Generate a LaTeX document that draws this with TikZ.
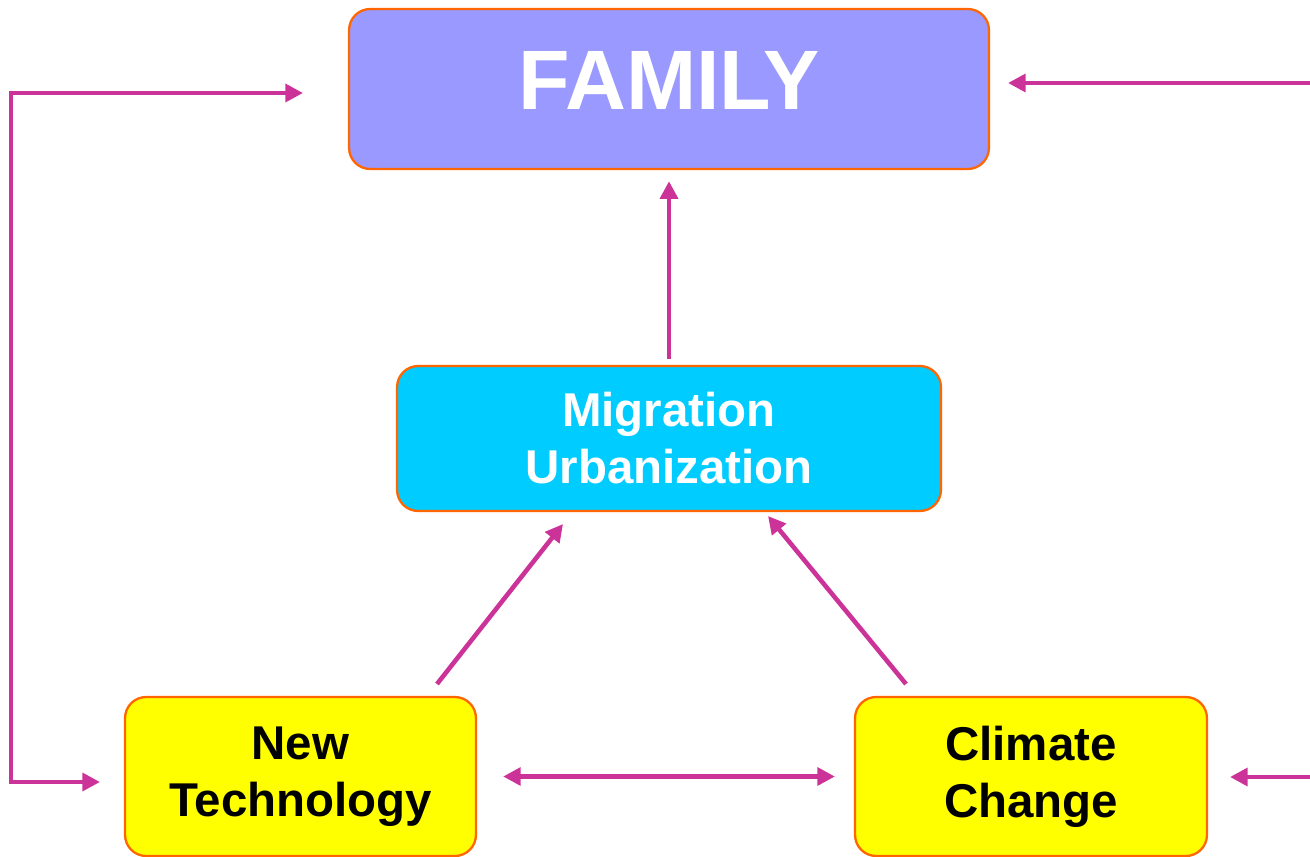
\documentclass[tikz,border=0pt]{standalone}
\usepackage{fontspec}
\setmainfont{Liberation Sans}
\usetikzlibrary{arrows.meta}
\definecolor{famfill}{HTML}{9999FF}
\definecolor{migfill}{HTML}{00CCFF}
\definecolor{drvfill}{HTML}{FFFF00}
\definecolor{boxedge}{HTML}{FF6600}
\definecolor{linkc}{HTML}{CC3399}
\begin{document}
\begin{tikzpicture}[x=0.02cm,y=-0.02cm,
  box/.style={draw=boxedge, line width=1.3pt, rounded corners=12pt, inner sep=0pt,
              align=center, font=\bfseries\fontsize{27}{32.4}\selectfont},
  flow/.style={draw=linkc, line width=2.6pt, -{Triangle[length=10pt,width=10pt]}},
  twoway/.style={draw=linkc, line width=2.6pt,
                 {Triangle[length=10pt,width=10pt]}-{Triangle[length=10pt,width=10pt]}}]
  \useasboundingbox (0,0) rectangle (1310,857);

  % boxes
  \node[box, fill=famfill, minimum width=12.8cm, minimum height=3.2cm] (fam) at (669,89) {};
  \node[text=white, font=\bfseries\fontsize{48}{52}\selectfont, inner sep=0pt] (famtext) at (669,80) {FAMILY};
  \node[box, fill=migfill, text=white, minimum width=10.88cm, minimum height=2.9cm] (mig) at (669,438.5) {Migration\\Urbanization};
  \node[box, fill=drvfill, minimum width=7.02cm, minimum height=3.18cm] (tech) at (300.5,776.5) {New\\Technology};
  \node[box, fill=drvfill, minimum width=7.04cm, minimum height=3.18cm] (clim) at (1031,776.5) {Climate\\Change};

  % connector end points
  \coordinate (famL) at (303,93);
  \coordinate (loopT) at (11,93);
  \coordinate (loopB) at (11,782);
  \coordinate (techL) at (100,782);
  \coordinate (famR) at (1008,83);
  \coordinate (edgeT) at (1310,83);
  \coordinate (climR) at (1230,777);
  \coordinate (edgeB) at (1310,777);
  \coordinate (techUp) at (437,684);
  \coordinate (migL) at (563,524);
  \coordinate (climUp) at (906,684);
  \coordinate (migR) at (768,516);

  % connectors
  \draw[flow, shorten <=3.4pt, shorten >=6.3pt] (mig.north) -- (fam.south);
  \draw[flow] (techUp) -- (migL);
  \draw[flow] (climUp) -- (migR);
  \draw[twoway, shorten <=14.8pt, shorten >=10.8pt] (tech.east) -- (clim.west);
  \draw[twoway] (famL) -- (loopT) -- (loopB) -- (techL);
  \draw[flow] (edgeT) -- (famR);
  \draw[flow] (edgeB) -- (climR);
\end{tikzpicture}
\end{document}
